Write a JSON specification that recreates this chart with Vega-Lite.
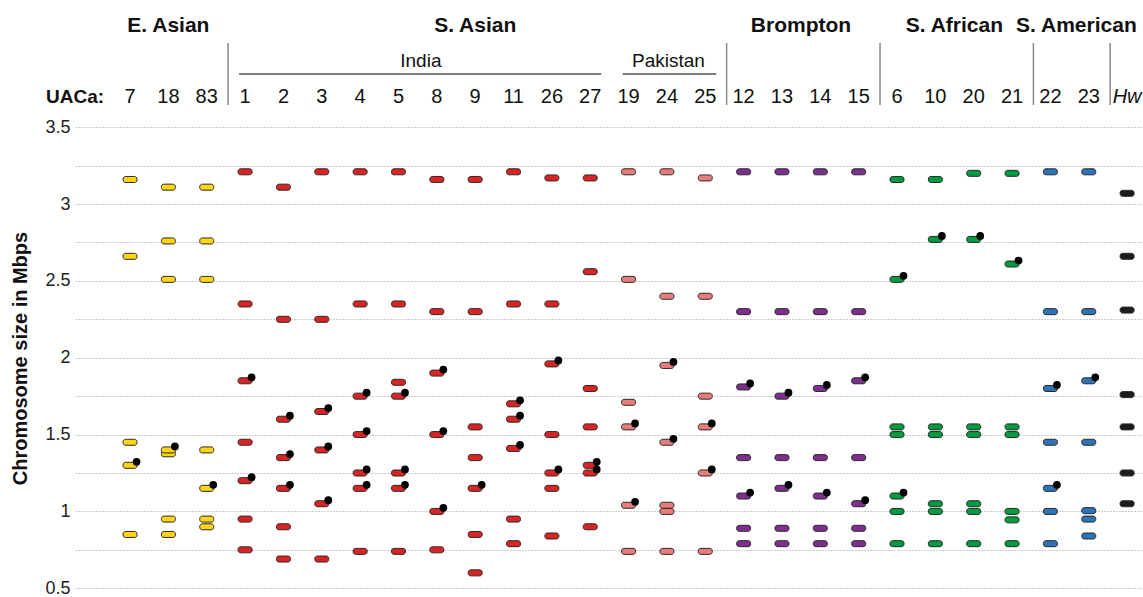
{
  "$schema": "https://vega.github.io/schema/vega-lite/v6.json",
  "width": 1068,
  "height": 597,
  "autosize": {"type": "none"},
  "padding": {"left": 75, "top": 0, "right": 0, "bottom": 0},
  "background": "white",
  "config": {
    "font": "Liberation Sans",
    "view": {"stroke": null},
    "text": {"font": "Liberation Sans", "color": "#111"}
  },
  "datasets": {
    "strains": [
      {"strain": "7"}, {"strain": "18"}, {"strain": "83"},
      {"strain": "1"}, {"strain": "2"}, {"strain": "3"}, {"strain": "4"}, {"strain": "5"}, {"strain": "8"}, {"strain": "9"}, {"strain": "11"}, {"strain": "26"}, {"strain": "27"},
      {"strain": "19"}, {"strain": "24"}, {"strain": "25"},
      {"strain": "12"}, {"strain": "13"}, {"strain": "14"}, {"strain": "15"},
      {"strain": "6"}, {"strain": "10"}, {"strain": "20"}, {"strain": "21"},
      {"strain": "22"}, {"strain": "23"}, {"strain": "Hw"}
    ],
    "chromosomes": [
      {"strain": "7", "set": "E. Asian", "mbp": 3.16, "dot": false},
      {"strain": "7", "set": "E. Asian", "mbp": 2.66, "dot": false},
      {"strain": "7", "set": "E. Asian", "mbp": 1.45, "dot": false},
      {"strain": "7", "set": "E. Asian", "mbp": 1.30, "dot": true},
      {"strain": "7", "set": "E. Asian", "mbp": 0.85, "dot": false},
      {"strain": "18", "set": "E. Asian", "mbp": 3.11, "dot": false},
      {"strain": "18", "set": "E. Asian", "mbp": 2.76, "dot": false},
      {"strain": "18", "set": "E. Asian", "mbp": 2.51, "dot": false},
      {"strain": "18", "set": "E. Asian", "mbp": 1.375, "dot": false},
      {"strain": "18", "set": "E. Asian", "mbp": 1.40, "dot": true},
      {"strain": "18", "set": "E. Asian", "mbp": 0.95, "dot": false},
      {"strain": "18", "set": "E. Asian", "mbp": 0.85, "dot": false},
      {"strain": "83", "set": "E. Asian", "mbp": 3.11, "dot": false},
      {"strain": "83", "set": "E. Asian", "mbp": 2.76, "dot": false},
      {"strain": "83", "set": "E. Asian", "mbp": 2.51, "dot": false},
      {"strain": "83", "set": "E. Asian", "mbp": 1.40, "dot": false},
      {"strain": "83", "set": "E. Asian", "mbp": 1.15, "dot": true},
      {"strain": "83", "set": "E. Asian", "mbp": 0.95, "dot": false},
      {"strain": "83", "set": "E. Asian", "mbp": 0.90, "dot": false},

      {"strain": "1", "set": "India", "mbp": 3.21, "dot": false},
      {"strain": "1", "set": "India", "mbp": 2.35, "dot": false},
      {"strain": "1", "set": "India", "mbp": 1.85, "dot": true},
      {"strain": "1", "set": "India", "mbp": 1.45, "dot": false},
      {"strain": "1", "set": "India", "mbp": 1.20, "dot": true},
      {"strain": "1", "set": "India", "mbp": 0.95, "dot": false},
      {"strain": "1", "set": "India", "mbp": 0.75, "dot": false},
      {"strain": "2", "set": "India", "mbp": 3.11, "dot": false},
      {"strain": "2", "set": "India", "mbp": 2.25, "dot": false},
      {"strain": "2", "set": "India", "mbp": 1.60, "dot": true},
      {"strain": "2", "set": "India", "mbp": 1.35, "dot": true},
      {"strain": "2", "set": "India", "mbp": 1.15, "dot": true},
      {"strain": "2", "set": "India", "mbp": 0.90, "dot": false},
      {"strain": "2", "set": "India", "mbp": 0.69, "dot": false},
      {"strain": "3", "set": "India", "mbp": 3.21, "dot": false},
      {"strain": "3", "set": "India", "mbp": 2.25, "dot": false},
      {"strain": "3", "set": "India", "mbp": 1.65, "dot": true},
      {"strain": "3", "set": "India", "mbp": 1.40, "dot": true},
      {"strain": "3", "set": "India", "mbp": 1.05, "dot": true},
      {"strain": "3", "set": "India", "mbp": 0.69, "dot": false},
      {"strain": "4", "set": "India", "mbp": 3.21, "dot": false},
      {"strain": "4", "set": "India", "mbp": 2.35, "dot": false},
      {"strain": "4", "set": "India", "mbp": 1.75, "dot": true},
      {"strain": "4", "set": "India", "mbp": 1.50, "dot": true},
      {"strain": "4", "set": "India", "mbp": 1.25, "dot": true},
      {"strain": "4", "set": "India", "mbp": 1.15, "dot": true},
      {"strain": "4", "set": "India", "mbp": 0.74, "dot": false},
      {"strain": "5", "set": "India", "mbp": 3.21, "dot": false},
      {"strain": "5", "set": "India", "mbp": 2.35, "dot": false},
      {"strain": "5", "set": "India", "mbp": 1.84, "dot": false},
      {"strain": "5", "set": "India", "mbp": 1.75, "dot": true},
      {"strain": "5", "set": "India", "mbp": 1.25, "dot": true},
      {"strain": "5", "set": "India", "mbp": 1.15, "dot": true},
      {"strain": "5", "set": "India", "mbp": 0.74, "dot": false},
      {"strain": "8", "set": "India", "mbp": 3.16, "dot": false},
      {"strain": "8", "set": "India", "mbp": 2.30, "dot": false},
      {"strain": "8", "set": "India", "mbp": 1.90, "dot": true},
      {"strain": "8", "set": "India", "mbp": 1.50, "dot": true},
      {"strain": "8", "set": "India", "mbp": 1.00, "dot": true},
      {"strain": "8", "set": "India", "mbp": 0.75, "dot": false},
      {"strain": "9", "set": "India", "mbp": 3.16, "dot": false},
      {"strain": "9", "set": "India", "mbp": 2.30, "dot": false},
      {"strain": "9", "set": "India", "mbp": 1.55, "dot": false},
      {"strain": "9", "set": "India", "mbp": 1.35, "dot": false},
      {"strain": "9", "set": "India", "mbp": 1.15, "dot": true},
      {"strain": "9", "set": "India", "mbp": 0.85, "dot": false},
      {"strain": "9", "set": "India", "mbp": 0.60, "dot": false},
      {"strain": "11", "set": "India", "mbp": 3.21, "dot": false},
      {"strain": "11", "set": "India", "mbp": 2.35, "dot": false},
      {"strain": "11", "set": "India", "mbp": 1.70, "dot": true},
      {"strain": "11", "set": "India", "mbp": 1.60, "dot": true},
      {"strain": "11", "set": "India", "mbp": 1.41, "dot": true},
      {"strain": "11", "set": "India", "mbp": 0.95, "dot": false},
      {"strain": "11", "set": "India", "mbp": 0.79, "dot": false},
      {"strain": "26", "set": "India", "mbp": 3.17, "dot": false},
      {"strain": "26", "set": "India", "mbp": 2.35, "dot": false},
      {"strain": "26", "set": "India", "mbp": 1.96, "dot": true},
      {"strain": "26", "set": "India", "mbp": 1.50, "dot": false},
      {"strain": "26", "set": "India", "mbp": 1.25, "dot": true},
      {"strain": "26", "set": "India", "mbp": 1.15, "dot": false},
      {"strain": "26", "set": "India", "mbp": 0.84, "dot": false},
      {"strain": "27", "set": "India", "mbp": 3.17, "dot": false},
      {"strain": "27", "set": "India", "mbp": 2.56, "dot": false},
      {"strain": "27", "set": "India", "mbp": 1.80, "dot": false},
      {"strain": "27", "set": "India", "mbp": 1.55, "dot": false},
      {"strain": "27", "set": "India", "mbp": 1.25, "dot": true},
      {"strain": "27", "set": "India", "mbp": 1.30, "dot": true},
      {"strain": "27", "set": "India", "mbp": 0.90, "dot": false},

      {"strain": "19", "set": "Pakistan", "mbp": 3.21, "dot": false},
      {"strain": "19", "set": "Pakistan", "mbp": 2.51, "dot": false},
      {"strain": "19", "set": "Pakistan", "mbp": 1.71, "dot": false},
      {"strain": "19", "set": "Pakistan", "mbp": 1.55, "dot": true},
      {"strain": "19", "set": "Pakistan", "mbp": 1.04, "dot": true},
      {"strain": "19", "set": "Pakistan", "mbp": 0.74, "dot": false},
      {"strain": "24", "set": "Pakistan", "mbp": 3.21, "dot": false},
      {"strain": "24", "set": "Pakistan", "mbp": 2.40, "dot": false},
      {"strain": "24", "set": "Pakistan", "mbp": 1.95, "dot": true},
      {"strain": "24", "set": "Pakistan", "mbp": 1.45, "dot": true},
      {"strain": "24", "set": "Pakistan", "mbp": 1.00, "dot": false},
      {"strain": "24", "set": "Pakistan", "mbp": 1.04, "dot": false},
      {"strain": "24", "set": "Pakistan", "mbp": 0.74, "dot": false},
      {"strain": "25", "set": "Pakistan", "mbp": 3.17, "dot": false},
      {"strain": "25", "set": "Pakistan", "mbp": 2.40, "dot": false},
      {"strain": "25", "set": "Pakistan", "mbp": 1.75, "dot": false},
      {"strain": "25", "set": "Pakistan", "mbp": 1.55, "dot": true},
      {"strain": "25", "set": "Pakistan", "mbp": 1.25, "dot": true},
      {"strain": "25", "set": "Pakistan", "mbp": 0.74, "dot": false},

      {"strain": "12", "set": "Brompton", "mbp": 3.21, "dot": false},
      {"strain": "12", "set": "Brompton", "mbp": 2.30, "dot": false},
      {"strain": "12", "set": "Brompton", "mbp": 1.81, "dot": true},
      {"strain": "12", "set": "Brompton", "mbp": 1.35, "dot": false},
      {"strain": "12", "set": "Brompton", "mbp": 1.10, "dot": true},
      {"strain": "12", "set": "Brompton", "mbp": 0.89, "dot": false},
      {"strain": "12", "set": "Brompton", "mbp": 0.79, "dot": false},
      {"strain": "13", "set": "Brompton", "mbp": 3.21, "dot": false},
      {"strain": "13", "set": "Brompton", "mbp": 2.30, "dot": false},
      {"strain": "13", "set": "Brompton", "mbp": 1.75, "dot": true},
      {"strain": "13", "set": "Brompton", "mbp": 1.35, "dot": false},
      {"strain": "13", "set": "Brompton", "mbp": 1.15, "dot": true},
      {"strain": "13", "set": "Brompton", "mbp": 0.89, "dot": false},
      {"strain": "13", "set": "Brompton", "mbp": 0.79, "dot": false},
      {"strain": "14", "set": "Brompton", "mbp": 3.21, "dot": false},
      {"strain": "14", "set": "Brompton", "mbp": 2.30, "dot": false},
      {"strain": "14", "set": "Brompton", "mbp": 1.80, "dot": true},
      {"strain": "14", "set": "Brompton", "mbp": 1.35, "dot": false},
      {"strain": "14", "set": "Brompton", "mbp": 1.10, "dot": true},
      {"strain": "14", "set": "Brompton", "mbp": 0.89, "dot": false},
      {"strain": "14", "set": "Brompton", "mbp": 0.79, "dot": false},
      {"strain": "15", "set": "Brompton", "mbp": 3.21, "dot": false},
      {"strain": "15", "set": "Brompton", "mbp": 2.30, "dot": false},
      {"strain": "15", "set": "Brompton", "mbp": 1.85, "dot": true},
      {"strain": "15", "set": "Brompton", "mbp": 1.35, "dot": false},
      {"strain": "15", "set": "Brompton", "mbp": 1.05, "dot": true},
      {"strain": "15", "set": "Brompton", "mbp": 0.89, "dot": false},
      {"strain": "15", "set": "Brompton", "mbp": 0.79, "dot": false},

      {"strain": "6", "set": "S. African", "mbp": 3.16, "dot": false},
      {"strain": "6", "set": "S. African", "mbp": 2.51, "dot": true},
      {"strain": "6", "set": "S. African", "mbp": 1.55, "dot": false},
      {"strain": "6", "set": "S. African", "mbp": 1.50, "dot": false},
      {"strain": "6", "set": "S. African", "mbp": 1.10, "dot": true},
      {"strain": "6", "set": "S. African", "mbp": 1.00, "dot": false},
      {"strain": "6", "set": "S. African", "mbp": 0.79, "dot": false},
      {"strain": "10", "set": "S. African", "mbp": 3.16, "dot": false},
      {"strain": "10", "set": "S. African", "mbp": 2.77, "dot": true},
      {"strain": "10", "set": "S. African", "mbp": 1.55, "dot": false},
      {"strain": "10", "set": "S. African", "mbp": 1.50, "dot": false},
      {"strain": "10", "set": "S. African", "mbp": 1.05, "dot": false},
      {"strain": "10", "set": "S. African", "mbp": 1.00, "dot": false},
      {"strain": "10", "set": "S. African", "mbp": 0.79, "dot": false},
      {"strain": "20", "set": "S. African", "mbp": 3.20, "dot": false},
      {"strain": "20", "set": "S. African", "mbp": 2.77, "dot": true},
      {"strain": "20", "set": "S. African", "mbp": 1.55, "dot": false},
      {"strain": "20", "set": "S. African", "mbp": 1.50, "dot": false},
      {"strain": "20", "set": "S. African", "mbp": 1.05, "dot": false},
      {"strain": "20", "set": "S. African", "mbp": 1.00, "dot": false},
      {"strain": "20", "set": "S. African", "mbp": 0.79, "dot": false},
      {"strain": "21", "set": "S. African", "mbp": 3.20, "dot": false},
      {"strain": "21", "set": "S. African", "mbp": 2.61, "dot": true},
      {"strain": "21", "set": "S. African", "mbp": 1.55, "dot": false},
      {"strain": "21", "set": "S. African", "mbp": 1.50, "dot": false},
      {"strain": "21", "set": "S. African", "mbp": 1.00, "dot": false},
      {"strain": "21", "set": "S. African", "mbp": 0.945, "dot": false},
      {"strain": "21", "set": "S. African", "mbp": 0.79, "dot": false},

      {"strain": "22", "set": "S. American", "mbp": 3.21, "dot": false},
      {"strain": "22", "set": "S. American", "mbp": 2.30, "dot": false},
      {"strain": "22", "set": "S. American", "mbp": 1.80, "dot": true},
      {"strain": "22", "set": "S. American", "mbp": 1.45, "dot": false},
      {"strain": "22", "set": "S. American", "mbp": 1.15, "dot": true},
      {"strain": "22", "set": "S. American", "mbp": 1.00, "dot": false},
      {"strain": "22", "set": "S. American", "mbp": 0.79, "dot": false},
      {"strain": "23", "set": "S. American", "mbp": 3.21, "dot": false},
      {"strain": "23", "set": "S. American", "mbp": 2.30, "dot": false},
      {"strain": "23", "set": "S. American", "mbp": 1.85, "dot": true},
      {"strain": "23", "set": "S. American", "mbp": 1.45, "dot": false},
      {"strain": "23", "set": "S. American", "mbp": 1.005, "dot": false},
      {"strain": "23", "set": "S. American", "mbp": 0.95, "dot": false},
      {"strain": "23", "set": "S. American", "mbp": 0.84, "dot": false},

      {"strain": "Hw", "set": "Hw", "mbp": 3.07, "dot": false},
      {"strain": "Hw", "set": "Hw", "mbp": 2.66, "dot": false},
      {"strain": "Hw", "set": "Hw", "mbp": 2.31, "dot": false},
      {"strain": "Hw", "set": "Hw", "mbp": 1.76, "dot": false},
      {"strain": "Hw", "set": "Hw", "mbp": 1.55, "dot": false},
      {"strain": "Hw", "set": "Hw", "mbp": 1.25, "dot": false},
      {"strain": "Hw", "set": "Hw", "mbp": 1.05, "dot": false}
    ]
  },
  "layer": [
    {
      "data": {"name": "chromosomes"},
      "mark": {"type": "rect", "width": 14, "height": 6, "cornerRadius": 2.5, "stroke": "#2a2a2a", "strokeWidth": 1},
      "encoding": {
        "x": {
          "field": "strain", "type": "ordinal",
          "scale": {
            "type": "point",
            "domain": ["7", "18", "83", "1", "2", "3", "4", "5", "8", "9", "11", "26", "27", "19", "24", "25", "12", "13", "14", "15", "6", "10", "20", "21", "22", "23", "Hw"],
            "padding": 0.925,
            "align": 0.776
          },
          "axis": null
        },
        "y": {
          "field": "mbp", "type": "quantitative",
          "scale": {"domain": [0.443, 4.328], "nice": false, "zero": false},
          "axis": {
            "values": [0.5, 0.75, 1, 1.25, 1.5, 1.75, 2, 2.25, 2.5, 2.75, 3, 3.25, 3.5],
            "labelExpr": "(datum.value * 4) % 2 == 0 ? format(datum.value, '.1~f') : ''",
            "grid": true,
            "gridDash": [1, 2],
            "gridColor": "#9a9a9a",
            "gridWidth": 1,
            "domain": false,
            "ticks": false,
            "labelPadding": 5,
            "labelFont": "Liberation Sans",
            "labelFontSize": 18,
            "labelColor": "#222",
            "title": "Chromosome size in Mbps",
            "titleFont": "Liberation Sans",
            "titleFontSize": 20,
            "titleFontWeight": "bold",
            "titleColor": "#111",
            "titleAngle": -90,
            "titleAlign": "center",
            "titleBaseline": "middle",
            "titleX": -55,
            "titleY": 358
          }
        },
        "fill": {
          "field": "set", "type": "nominal",
          "scale": {
            "domain": ["E. Asian", "India", "Pakistan", "Brompton", "S. African", "S. American", "Hw"],
            "range": ["#FFD416", "#DA2424", "#E87C7C", "#7E2F8E", "#009B40", "#2D73B6", "#1c1c1c"]
          },
          "legend": null
        }
      }
    },
    {
      "data": {"name": "chromosomes"},
      "transform": [{"filter": "datum.dot"}],
      "mark": {"type": "point", "shape": "circle", "filled": true, "size": 60, "color": "#000", "opacity": 1, "xOffset": 6.5, "yOffset": -3.5},
      "encoding": {
        "x": {"field": "strain", "type": "ordinal"},
        "y": {"field": "mbp", "type": "quantitative"}
      }
    },
    {
      "data": {"name": "strains"},
      "transform": [{"filter": "datum.strain != 'Hw'"}],
      "mark": {"type": "text", "fontSize": 20, "baseline": "alphabetic", "align": "center"},
      "encoding": {
        "x": {"field": "strain", "type": "ordinal"},
        "y": {"datum": 3.658},
        "text": {"field": "strain"}
      }
    },
    {
      "data": {"name": "strains"},
      "transform": [{"filter": "datum.strain == 'Hw'"}],
      "mark": {"type": "text", "fontSize": 20, "fontStyle": "italic", "baseline": "alphabetic", "align": "center"},
      "encoding": {
        "x": {"field": "strain", "type": "ordinal"},
        "y": {"datum": 3.658},
        "text": {"field": "strain"}
      }
    },
    {
      "data": {"values": [{"strain": "7", "label": "UACa:"}]},
      "mark": {"type": "text", "fontSize": 19, "fontWeight": "bold", "baseline": "alphabetic", "align": "right", "dx": -26},
      "encoding": {
        "x": {"field": "strain", "type": "ordinal"},
        "y": {"datum": 3.658},
        "text": {"field": "label"}
      }
    },
    {
      "data": {"values": [{"strain": "18", "label": "E. Asian"}, {"strain": "9", "label": "S. Asian"}]},
      "mark": {"type": "text", "fontSize": 21, "fontWeight": "bold", "baseline": "alphabetic", "align": "center"},
      "encoding": {
        "x": {"field": "strain", "type": "ordinal"},
        "y": {"datum": 4.12},
        "text": {"field": "label"}
      }
    },
    {
      "data": {"values": [{"strain": "13", "label": "Brompton"}, {"strain": "10", "label": "S. African"}]},
      "mark": {"type": "text", "fontSize": 21, "fontWeight": "bold", "baseline": "alphabetic", "align": "center", "dx": 19},
      "encoding": {
        "x": {"field": "strain", "type": "ordinal"},
        "y": {"datum": 4.12},
        "text": {"field": "label"}
      }
    },
    {
      "data": {"values": [{"strain": "22", "label": "S. American"}]},
      "mark": {"type": "text", "fontSize": 21, "fontWeight": "bold", "baseline": "alphabetic", "align": "center", "dx": 26},
      "encoding": {
        "x": {"field": "strain", "type": "ordinal"},
        "y": {"datum": 4.12},
        "text": {"field": "label"}
      }
    },
    {
      "data": {"values": [{"strain": "8", "label": "India"}]},
      "mark": {"type": "text", "fontSize": 19, "baseline": "alphabetic", "align": "center", "dx": -16},
      "encoding": {
        "x": {"field": "strain", "type": "ordinal"},
        "y": {"datum": 3.892},
        "text": {"field": "label"}
      }
    },
    {
      "data": {"values": [{"strain": "24", "label": "Pakistan"}]},
      "mark": {"type": "text", "fontSize": 19, "baseline": "alphabetic", "align": "center", "dx": 1.5},
      "encoding": {
        "x": {"field": "strain", "type": "ordinal"},
        "y": {"datum": 3.892},
        "text": {"field": "label"}
      }
    },
    {
      "data": {"values": [{"strain": "1", "end": "27"}, {"strain": "19", "end": "25"}]},
      "mark": {"type": "rule", "color": "#555", "strokeWidth": 1.5, "xOffset": -6, "x2Offset": 11},
      "encoding": {
        "x": {"field": "strain", "type": "ordinal"},
        "x2": {"field": "end"},
        "y": {"datum": 3.846}
      }
    },
    {
      "data": {"values": [{"strain": "1"}, {"strain": "12"}, {"strain": "6"}, {"strain": "22"}, {"strain": "Hw"}]},
      "mark": {"type": "rule", "color": "#8a8a8a", "strokeWidth": 1.5, "xOffset": -17},
      "encoding": {
        "x": {"field": "strain", "type": "ordinal"},
        "y": {"datum": 4.048},
        "y2": {"datum": 3.645}
      }
    }
  ]
}
